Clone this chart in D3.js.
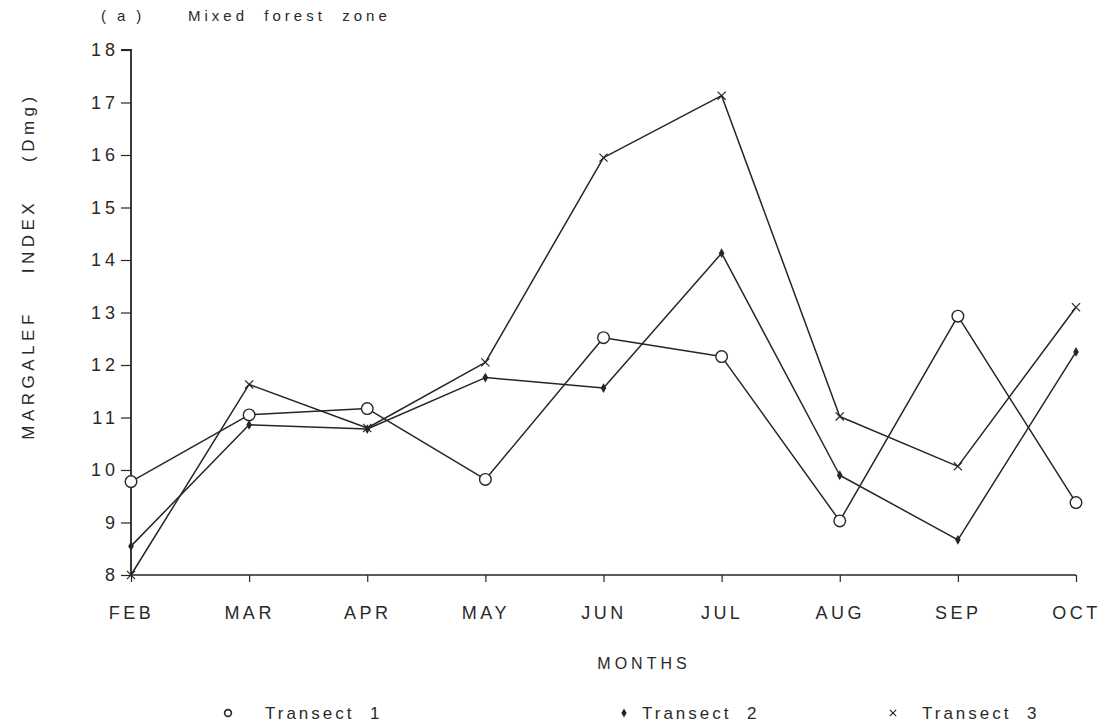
<!DOCTYPE html>
<html>
<head>
<meta charset="utf-8">
<script src="https://cdn.jsdelivr.net/npm/d3@7"></script>
<style>
  html, body { margin: 0; padding: 0; background: #fff; }
  svg { display: block; }
  text { font-family: "Liberation Sans", Arial, sans-serif; fill: #2a2a2a; }
</style>
</head>
<body>
<svg id="chart" width="1118" height="727"></svg>
<script>
const months = ["FEB", "MAR", "APR", "MAY", "JUN", "JUL", "AUG", "SEP", "OCT"];
const transect1 = [9.78, 11.05, 11.17, 9.82, 12.52, 12.16, 9.03, 12.93, 9.38];
const transect2 = [8.55, 10.86, 10.78, 11.76, 11.56, 14.13, 9.9, 8.67, 12.25];
const transect3 = [8.0, 11.63, 10.8, 12.05, 15.95, 17.13, 11.02, 10.07, 13.1];
const yTicks = [8, 9, 10, 11, 12, 13, 14, 15, 16, 17, 18];
const seriesNames = ["Transect 1", "Transect 2", "Transect 3"];

const svg = d3.select("#chart");
const ink = "#262626";
const fam = '"Liberation Sans", Arial, sans-serif';

const x = d3.scalePoint().domain(months).range([131, 1076]);
const y = d3.scaleLinear().domain([8, 18]).range([575, 50]);

// Title
svg.append("text").attr("x", 101).attr("y", 21)
  .attr("font-size", 15).attr("letter-spacing", 11)
  .style("white-space", "pre")
  .text("(a)");
svg.append("text").attr("x", 188).attr("y", 21)
  .attr("font-size", 15).attr("letter-spacing", 4)
  .style("white-space", "pre")
  .text("Mixed  forest  zone");

// Y axis
const yAxis = d3.axisLeft(y).tickValues(yTicks).tickSize(10).tickPadding(2)
  .tickFormat(d3.format("d"));
const gy = svg.append("g").attr("transform", "translate(131,0)").call(yAxis);
gy.select(".domain").attr("stroke", ink).attr("stroke-width", 1.8).attr("d", `M-10,${y(18)}H0V${y(8)}`);
gy.selectAll(".tick line").attr("stroke", ink).attr("stroke-width", 1.2);
gy.selectAll(".tick text").attr("font-size", 18).attr("letter-spacing", 4)
  .attr("fill", ink).style("font-family", fam);

// X axis
const xAxis = d3.axisBottom(x).tickSize(7).tickPadding(24);
const gx = svg.append("g").attr("transform", `translate(0,${y(8)})`).call(xAxis);
gx.select(".domain").attr("stroke", ink).attr("stroke-width", 1.4).attr("d", `M${x("FEB")},0H${x("OCT")}`);
gx.selectAll(".tick line").attr("stroke", ink).attr("stroke-width", 1.2);
gx.selectAll(".tick text").attr("font-size", 18).attr("letter-spacing", 3.5)
  .attr("fill", ink).style("font-family", fam);

// Axis titles
svg.append("text")
  .attr("transform", "translate(34,266) rotate(-90)")
  .attr("text-anchor", "middle")
  .attr("font-size", 17).attr("letter-spacing", 4.5)
  .style("white-space", "pre")
  .text("MARGALEF    INDEX    (Dmg)");
svg.append("text").attr("x", 644).attr("y", 669)
  .attr("text-anchor", "middle").attr("font-size", 16).attr("letter-spacing", 4)
  .text("MONTHS");

// Lines
const line = d3.line().x((d, i) => x(months[i])).y(d => y(d));
const data = [transect1, transect2, transect3];
data.forEach(s => {
  svg.append("path").datum(s).attr("d", line)
    .attr("fill", "none").attr("stroke", ink).attr("stroke-width", 1.5)
    .attr("stroke-linejoin", "round");
});

// Markers
const diamond = d3.symbol().type(d3.symbolDiamond).size(28);
const cross = d3.symbol().type(d3.symbolX).size(45);
svg.append("g").selectAll("path").data(transect3).join("path")
  .attr("transform", (d, i) => `translate(${x(months[i])},${y(d)})`)
  .attr("d", cross).attr("fill", ink).attr("stroke", ink).attr("stroke-width", 1.2);
svg.append("g").selectAll("path").data(transect2).join("path")
  .attr("transform", (d, i) => `translate(${x(months[i])},${y(d)})`)
  .attr("d", diamond).attr("fill", ink);
svg.append("g").selectAll("circle").data(transect1).join("circle")
  .attr("cx", (d, i) => x(months[i])).attr("cy", d => y(d)).attr("r", 5.8)
  .attr("fill", "#fff").attr("stroke", ink).attr("stroke-width", 1.4);

// Legend
const legY = 719;
const leg = [
  {mx: 228, tx: 265},
  {mx: 624, tx: 642},
  {mx: 893, tx: 922}
];
svg.append("circle").attr("cx", leg[0].mx).attr("cy", legY - 6).attr("r", 3.4)
  .attr("fill", "none").attr("stroke", ink).attr("stroke-width", 1.6);
svg.append("path").attr("transform", `translate(${leg[1].mx},${legY - 6})`)
  .attr("d", d3.symbol().type(d3.symbolDiamond).size(24)).attr("fill", ink);
svg.append("path").attr("transform", `translate(${leg[2].mx},${legY - 6})`)
  .attr("d", d3.symbol().type(d3.symbolX).size(28)).attr("fill", ink).attr("stroke", ink).attr("stroke-width", 1.2);
seriesNames.forEach((n, i) => {
  svg.append("text").attr("x", leg[i].tx).attr("y", legY)
    .attr("font-size", 17).attr("letter-spacing", 3)
    .style("white-space", "pre")
    .text(n.replace("Transect ", "Transect  "));
});
</script>
</body>
</html>
